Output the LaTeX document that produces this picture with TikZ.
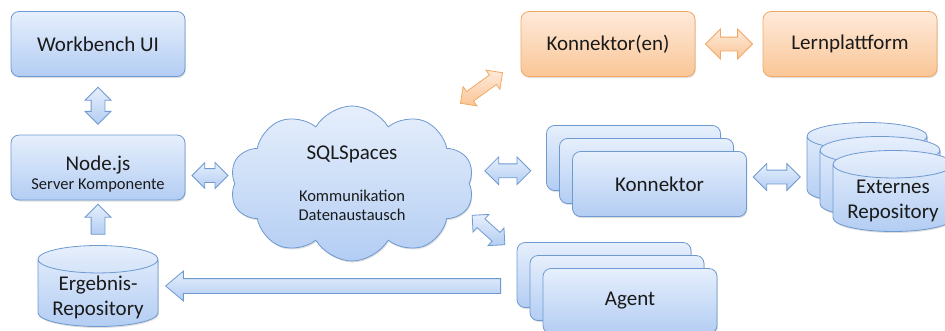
\documentclass[tikz,border=0pt]{standalone}
\usepackage{fontspec}
\setmainfont{Carlito}
\usetikzlibrary{shapes.geometric,shapes.arrows,shapes.symbols,shadows,calc}
\definecolor{btop}{HTML}{E6EFFC}
\definecolor{bbot}{HTML}{B3CDF3}
\definecolor{bdraw}{HTML}{6E9AD0}
\definecolor{otop}{HTML}{FEEADB}
\definecolor{obot}{HTML}{FAC696}
\definecolor{odraw}{HTML}{F2A865}
\definecolor{txt}{HTML}{1A1A1A}
\newcommand\smalltxt{\fontsize{16.5}{19}\selectfont}
% text block of reported size 30pt, its ink lowered by #1 from the box centre
\newcommand\lowtext[2]{\raisebox{0pt}[\dimexpr(30pt+\height-\depth+2\dimexpr#1\relax)/2\relax][\dimexpr(30pt-\height+\depth-2\dimexpr#1\relax)/2\relax]{\begin{tabular}{@{}c@{}}#2\end{tabular}}}
\begin{document}
\begin{tikzpicture}[x=1pt,y=-1pt,
  font=\fontsize{21}{25}\selectfont, text=txt,
  shd/.style={drop shadow={opacity=0.25,shadow xshift=0.8pt,shadow yshift=-1.5pt}},
  bluefill/.style={draw=bdraw,line width=0.8pt,top color=btop,bottom color=bbot},
  orangefill/.style={draw=odraw,line width=0.8pt,top color=otop,bottom color=obot},
  box/.style={rectangle,rounded corners=8pt,minimum width=174pt,minimum height=65pt,inner sep=0pt,shd},
  bluebox/.style={box,bluefill},
  orangebox/.style={box,orangefill},
  db/.style={cylinder,shape border rotate=90,aspect=0.3,minimum width=120pt,minimum height=81pt,inner sep=0pt,anchor=shape center,bluefill,shd},
  darrow/.style={double arrow,double arrow head extend=6pt,inner xsep=0pt,inner ysep=6.5pt,bluefill},
  odarrow/.style={double arrow,double arrow head extend=8pt,inner xsep=0pt,inner ysep=6.5pt,orangefill},
  sarrow/.style={single arrow,single arrow head extend=6pt,inner xsep=0pt,inner ysep=6.5pt,bluefill},
  cloudshape/.style={cloud,cloud puffs=10,cloud puff arc=120,aspect=1.57,minimum width=244pt,minimum height=155pt,inner sep=0pt,bluefill,shd,align=center}
]
\useasboundingbox (0,0) rectangle (945,330);
\clip (0,0) rectangle (945,330);

% left column
\node[bluebox] (wb) at (98,44) {Workbench UI};
\node[bluebox] (node) at (98,167.5) {\lowtext{7pt}{Node.js\\[-6pt]{\smalltxt Server Komponente}}};
\node[db] (erg) at (98,286) {\lowtext{5pt}{Ergebnis-\\Repository}};

% cloud
\node[cloudshape] (sql) at (352,183.5) {SQLSpaces\\[17pt]{\smalltxt Kommunikation}\\[-6pt]{\smalltxt Datenaustausch}};

% orange
\node[orangebox] (konen) at (608,44) {Konnektor(en)};
\node[orangebox] (lern) at (850,44) {Lernplattform};

% konnektor stack
\node[bluebox] (k3) at (633.5,158) {};
\node[bluebox] (k2) at (646.5,171) {};
\node[bluebox] (konn) at (659.5,184) {Konnektor};

% agent stack
\node[bluebox] (a3) at (604,275) {};
\node[bluebox] (a2) at (617,288) {};
\node[bluebox] (agent) at (630,301) {Agent};

% external repositories
\node[db] (e3) at (867,163) {\lowtext{2.5pt}{\phantom{Externes}\\\phantom{Repository}}};
\node[db] (e2) at (880,177) {\lowtext{2.5pt}{\phantom{Externes}\\\phantom{Repository}}};
\node[db] (ext) at (893,191) {\lowtext{2.5pt}{Externes\\Repository}};

% block arrows
\node[darrow,rotate=90,minimum height=37pt] (a-wb) at ($(wb.south)!0.5!(node.north)$) {};
\node[sarrow,rotate=90,minimum height=30pt] (a-erg) at ($(node.south)!0.5!(erg.north)$) {};
\node[darrow,minimum height=36pt] (a-node) at ($(node.east)!0.5!(sql.west)$) {};
\coordinate (m) at ($(erg.east)!0.5!(a3.west)$);
\node[sarrow,rotate=180,minimum height=335pt,inner ysep=7pt,single arrow head extend=7.5pt,single arrow tip angle=80] (a-long) at (m |- erg.shape center) {};
\node[darrow,minimum height=46pt,double arrow head extend=7pt] (a-konn) at ($(sql.east)!0.5!(k3.west)$) {};
\node[darrow,minimum height=47pt,double arrow head extend=6.5pt] (a-ext) at ($(konn.east)!0.5!(e3.west)$) {};
\node[odarrow,minimum height=47pt] (a-lern) at ($(konen.east)!0.5!(lern.west)$) {};
\node[odarrow,rotate=36,minimum height=52pt,inner ysep=5.5pt,double arrow head extend=6pt] (a-or) at (481.5,88) {};
\node[darrow,rotate=-42,minimum height=44pt,inner ysep=5.5pt,double arrow head extend=6pt] (a-ag) at (488.5,230) {};
\end{tikzpicture}
\end{document}
